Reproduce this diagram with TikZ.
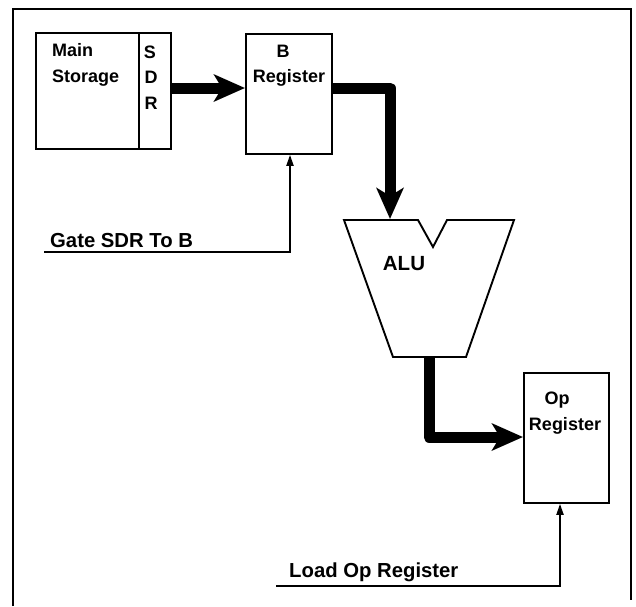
\documentclass[tikz,border=0pt]{standalone}
\usepackage{fontspec}
\setmainfont{Liberation Sans}
\usetikzlibrary{arrows.meta}
\begin{document}
\begin{tikzpicture}[x=1pt,y=-1pt,
  box/.style={draw,line width=1.8pt,rectangle,inner sep=0pt,anchor=north west},
  boxtxt/.style={font=\fontsize{18}{20}\selectfont\bfseries,inner sep=0pt,anchor=base},
  lbltxt/.style={font=\fontsize{20.3}{22}\selectfont\bfseries,inner sep=0pt,anchor=base west},
  ctl/.style={line width=1.9pt,-{Triangle[length=11pt,width=7pt]}},
  bus/.style={line width=11pt,-{Stealth[length=31pt,width=27pt,inset=8pt]}}]
\useasboundingbox (0,0) rectangle (636,606);
% frame
\draw[line width=2pt] (13,606) -- (13,9) -- (631,9) -- (631,600);
% boxes
\node[box,minimum width=103pt,minimum height=116pt] (ms) at (35,32) {};
\node[box,minimum width=32pt,minimum height=116pt] (sdr) at (138,32) {};
\node[box,minimum width=86pt,minimum height=120pt] (b) at (245,33) {};
\node[box,minimum width=85pt,minimum height=130pt] (op) at (523,372) {};
% texts
\node[boxtxt,anchor=base west] (t1) at (52,56) {Main};
\node[boxtxt,anchor=base west] (t2) at (52,82) {Storage};
\node[boxtxt] (s1) at (150,58) {S};
\node[boxtxt] (s2) at (151,83) {D};
\node[boxtxt] (s3) at (151,109) {R};
\node[boxtxt] (t3) at (283,57) {B};
\node[boxtxt] (t4) at (289,82) {Register};
\node[boxtxt] (t5) at (557,404) {Op};
\node[boxtxt] (t6) at (565,430) {Register};
\node[font=\fontsize{20.5}{22}\selectfont\bfseries,inner sep=0pt,anchor=base] (alut) at (404,270) {ALU};
\node[lbltxt] (gl) at (50,247) {Gate SDR To B};
\node[lbltxt] (ll) at (289,577) {Load Op Register};
% ALU shape
\coordinate (alutop) at (390,219);
\coordinate (alubot) at (429,357);
\draw[line width=1.9pt,line join=miter] (344,220) -- (418,220) -- (433,247) -- (447,220) -- (514,220) -- (466,357) -- (393,357) -- cycle;
% bus arrows
\draw[bus] (sdr.east |- 0,88) -- (b.west |- 0,88);
\draw[bus,line join=round] (b.east |- 0,88) -- (390,88) -- (alutop);
\draw[bus,line join=round] (alubot) -- (429,437) -- (op.west |- 0,437);
% control lines
\coordinate (g0) at (44,252);
\coordinate (g1) at (290,252);
\draw[ctl] (g0) -- (g1) -- (g1 |- b.south);
\coordinate (l0) at (276,586);
\coordinate (l1) at (560,586);
\draw[ctl] (l0) -- (l1) -- (l1 |- op.south);
\end{tikzpicture}
\end{document}
